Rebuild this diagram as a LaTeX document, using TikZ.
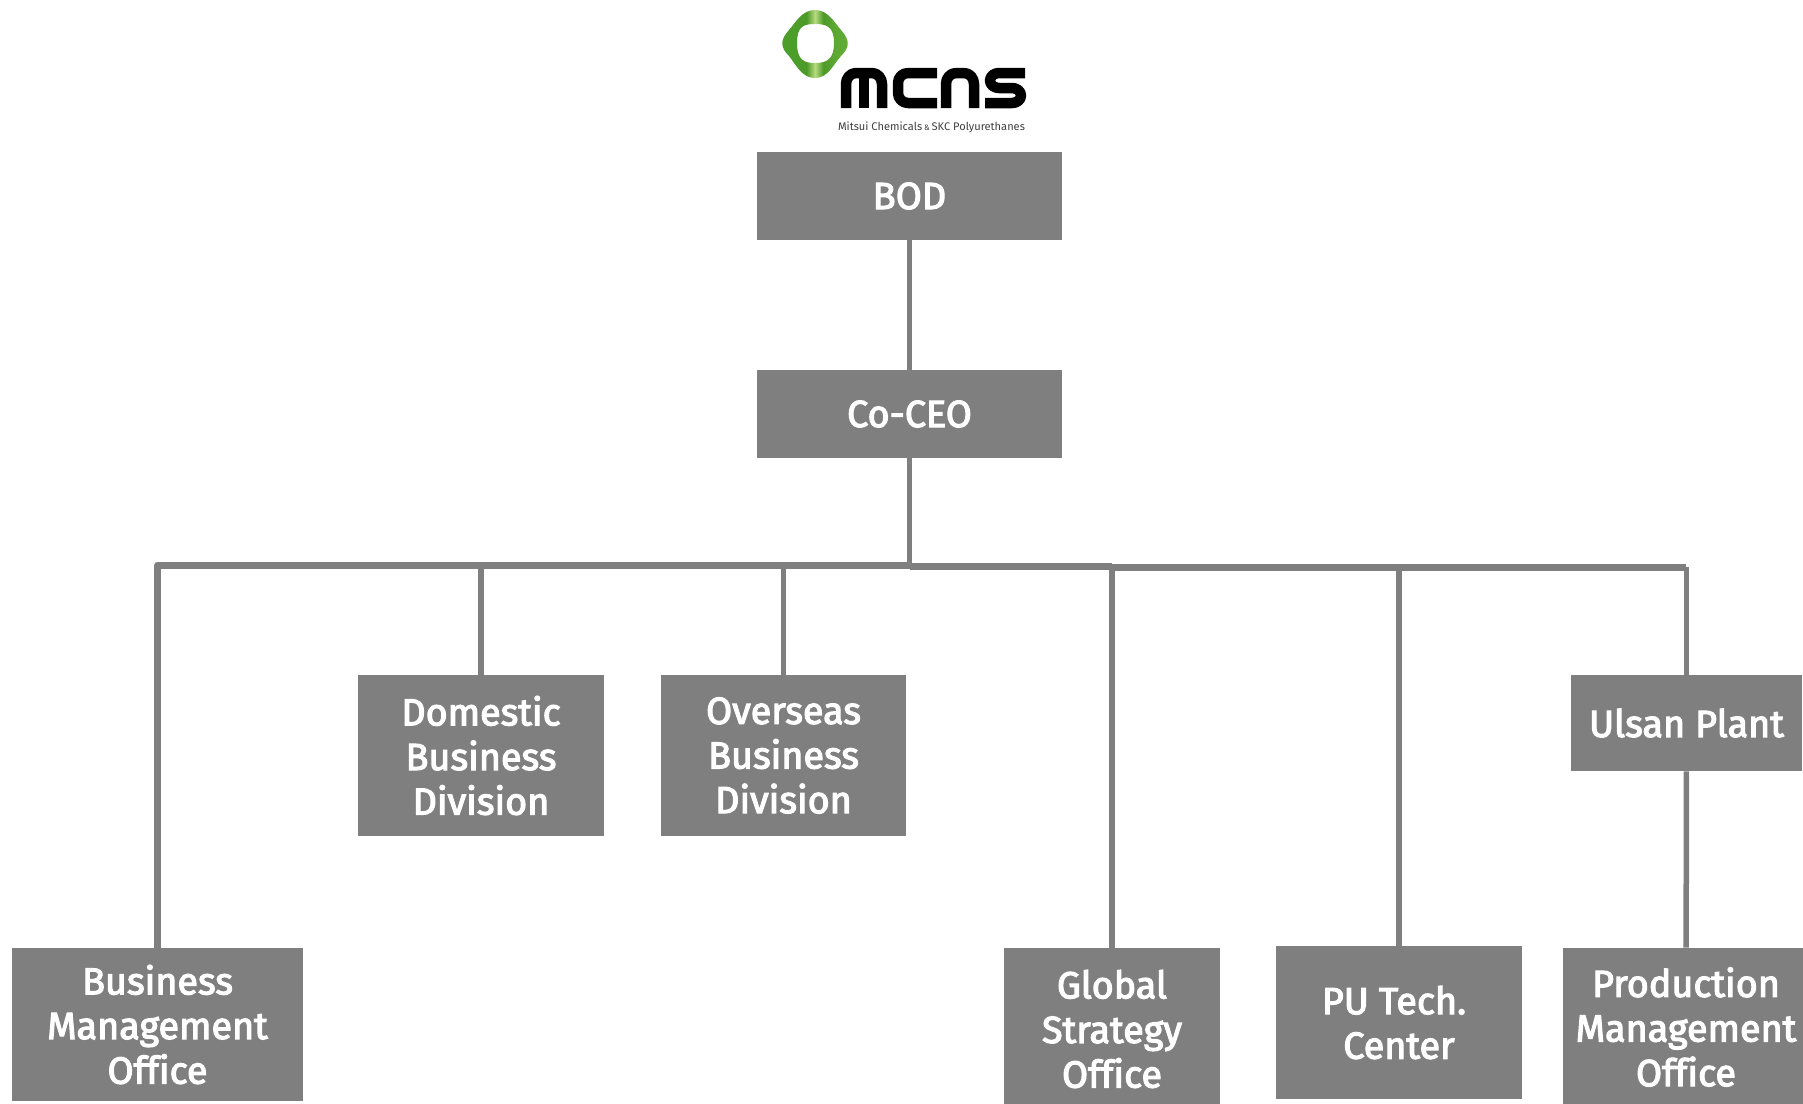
\documentclass[tikz,border=0pt]{standalone}
\usepackage{fontspec}
\setmainfont{Fira Sans}
\newfontfamily\orgfont{Fira Sans}[FakeBold=3,Ligatures=NoCommon]
\usepackage{tikz}
\definecolor{boxgray}{RGB}{127,127,127}
\definecolor{linegray}{RGB}{127,127,127}
\pgfdeclarehorizontalshading{ringshade}{100bp}{rgb(0bp)=(0.42,0.70,0.22); rgb(20bp)=(0.30,0.62,0.17); rgb(36bp)=(0.30,0.62,0.17); rgb(44bp)=(0.30,0.60,0.16); rgb(50bp)=(0.72,0.86,0.50); rgb(56bp)=(0.30,0.60,0.16); rgb(64bp)=(0.36,0.66,0.20); rgb(100bp)=(0.46,0.72,0.26)}
\tikzset{
  orgbox/.style={fill=boxgray, text=white, font=\fontsize{21.5}{25.4}\selectfont\orgfont, align=center, inner sep=0pt},
  orgline/.style={draw=linegray, line width=0.11cm},
  busline/.style={draw=linegray, line width=0.14cm, line join=round},
  logoline/.style={line width=0.21cm, line cap=butt, line join=round}
}
\begin{document}
\begin{tikzpicture}[x=0.02cm, y=-0.02cm]
\useasboundingbox (0,0) rectangle (1803,1103);
\shade[even odd rule, shading=ringshade]
  (815,10) .. controls (828,10) and (834,22) .. (841,30) .. controls (850,40) and (850,47) .. (841,56) .. controls (833,65) and (828,78) .. (815,78) .. controls (802,78) and (796,65) .. (789,56) .. controls (780,47) and (780,40) .. (789,30) .. controls (796,22) and (802,10) .. (815,10) -- cycle
  (815,24) .. controls (826,24) and (834,26) .. (834,43) .. controls (834,60) and (826,63) .. (815,63) .. controls (804,63) and (797,60) .. (797,43) .. controls (797,26) and (804,24) .. (815,24) -- cycle;
\draw[logoline] (846,108) -- (846,84) to[out=90, in=180] (856,73) -- (872,73) to[out=0, in=90] (882,84) -- (882,108);
\draw[logoline] (864,73) -- (864,108);
\draw[logoline] (937,73) -- (908,73) to[out=180, in=90] (898,83) -- (898,93) to[out=-90, in=180] (908,103) -- (937,103);
\draw[logoline] (946,108) -- (946,84) to[out=90, in=180] (956,73) -- (964,73) to[out=0, in=90] (974,84) -- (974,108);
\draw[logoline] (1025,73) -- (999,73) to[out=180, in=90] (990,80.5) to[out=-90, in=180] (999,88) -- (1012,88) to[out=0, in=90] (1021,95.5) to[out=-90, in=0] (1012,103) -- (985,103);
\node[font=\fontsize{6.3}{8}\selectfont, text=black!75, inner sep=0pt] (logotext) at (931.5,127) {Mitsui Chemicals\,{\fontsize{4.5}{6}\selectfont\&}\,SKC Polyurethanes};
\node[orgbox, minimum width=6.1cm, minimum height=1.76cm] (bod) at (909.5,196) {BOD};
\node[orgbox, minimum width=6.1cm, minimum height=1.76cm] (coceo) at (909.5,414) {Co-CEO};
\node[orgbox, minimum width=4.92cm, minimum height=3.22cm] (domestic) at (481,755.5) {Domestic\\Business\\Division};
\node[orgbox, minimum width=4.9cm, minimum height=3.22cm] (overseas) at (783.5,755.5) {Overseas\\Business\\Division};
\node[orgbox, minimum width=4.62cm, minimum height=1.92cm] (ulsan) at (1686.5,723) {Ulsan Plant};
\node[orgbox, minimum width=5.82cm, minimum height=3.06cm] (business) at (157.5,1024.5) {Business\\Management\\Office};
\node[orgbox, minimum width=4.32cm, minimum height=3.24cm] (strategy) at (1112,1029) {Global\\Strategy\\Office};
\node[orgbox, minimum width=4.92cm, minimum height=3.06cm] (tech) at (1399,1022.5) {PU Tech.\hspace*{0.2cm}\\Center};
\node[orgbox, minimum width=4.92cm, minimum height=3.16cm] (production) at (1686,1027) {Production\\Management\\Office};
\coordinate (busmid) at (909.5,565);
\coordinate (busstrat) at (1112,566);
\coordinate (busright) at (1686,567);
\draw[orgline] (bod) -- (coceo);
\draw[orgline] (coceo) -- (busmid);
\draw[busline] (business.north) |- (busmid);
\draw[busline] (busmid |- busstrat) -- (busstrat);
\draw[busline] (busstrat |- busright) -- (busright);
\draw[orgline] (domestic) -- (domestic |- busmid);
\draw[orgline] (overseas) -- (overseas |- busmid);
\draw[orgline] (strategy.north) -- (busstrat);
\draw[orgline] (tech.north) -- (tech.north |- busright);
\draw[orgline] (ulsan) -- (ulsan |- busright);
\draw[orgline] (ulsan) -- (production);
\end{tikzpicture}
\end{document}
